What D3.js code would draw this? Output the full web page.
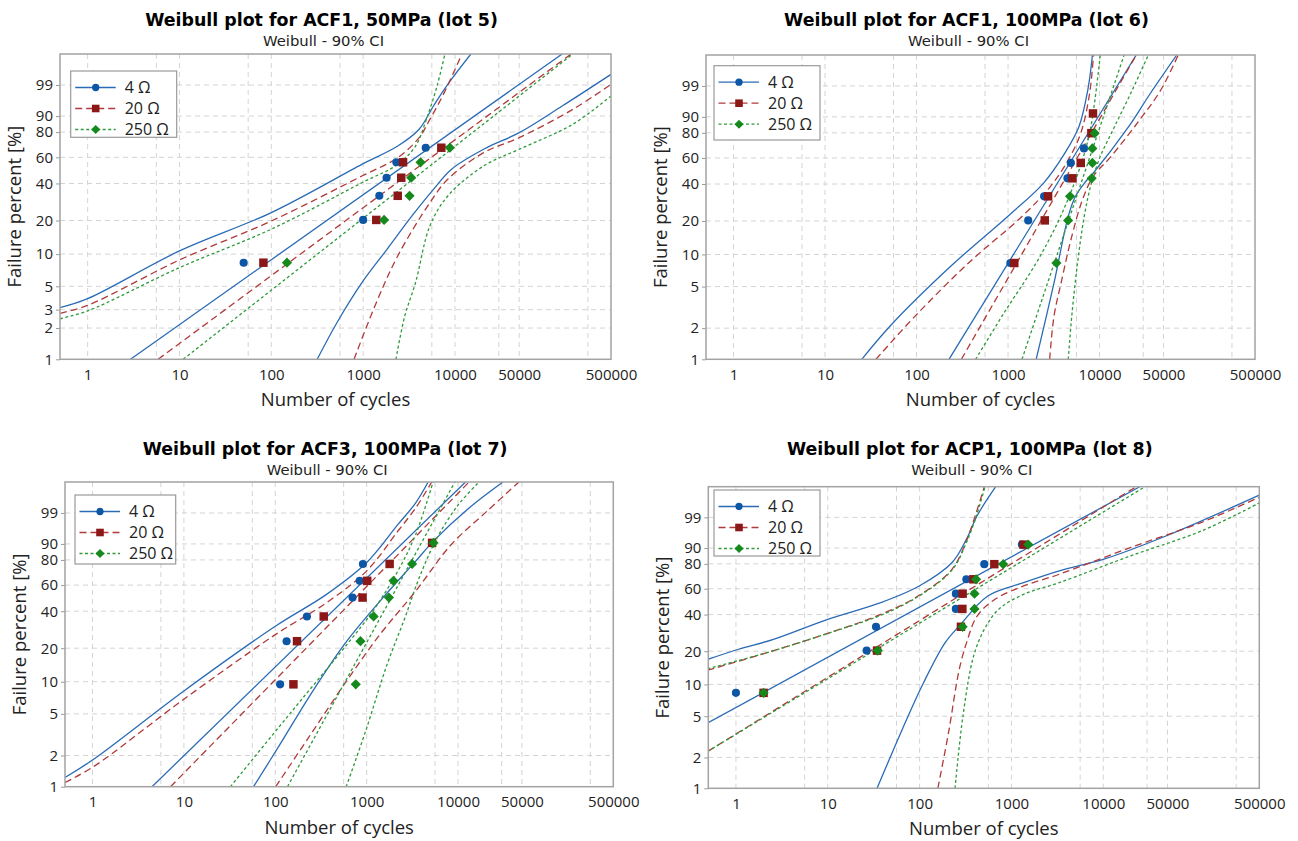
<!DOCTYPE html>
<html>
<head>
<meta charset="utf-8">
<script src="https://cdn.jsdelivr.net/npm/d3@7"></script>
<style>
  body { margin: 0; background: #fff; }
  svg { display: block; }
</style>
</head>
<body>
<svg id="chart" width="1298" height="841"></svg>
<script>

/* ---- shared values ---- */
const groupNames = ["4 Ω", "20 Ω", "250 Ω"];
const xTickValues = [1, 10, 100, 1000, 10000, 50000, 500000];
const xGridValues = [1, 5.6, 10, 56, 100, 560, 1000, 5600, 10000, 30000, 50000, 280000];
const yTicksWith3 = [1, 2, 3, 5, 10, 20, 40, 60, 80, 90, 99];
const yTicksNo3 = [1, 2, 5, 10, 20, 40, 60, 80, 90, 99];
const titles = [
    "Weibull plot for ACF1, 50MPa (lot 5)",
    "Weibull plot for ACF1, 100MPa (lot 6)",
    "Weibull plot for ACF3, 100MPa (lot 7)",
    "Weibull plot for ACP1, 100MPa (lot 8)"
];
const subTitle = "Weibull - 90% CI";
const xLabel = "Number of cycles";
const yLabel = "Failure percent [%]";

/* ---- lot 5 : [cycles, failure %] ---- */
const lot5Points = [
    [[50, 8.33], [1000, 20.24], [1500, 32.14], [1800, 44.05], [2300, 55.95], [4800, 67.86]],
    [[82, 8.33], [1390, 20.24], [2380, 32.14], [2600, 44.05], [2720, 55.95], [7100, 67.86]],
    [[148, 8.33], [1690, 20.24], [3200, 32.14], [3340, 44.05], [4220, 55.95], [8800, 67.86]]
];
const lot5Fit = [
    [[2.93, 1], [146900, 99.99]],
    [[5.85, 1], [184000, 99.99]],
    [[10.96, 1], [192000, 99.99]]
];
const lot5Upper = [
    [[0.5, 3.14], [1, 3.82], [10, 10.7], [100, 23.4], [970, 54.3], [2380, 69.2], [4070, 82.0], [5830, 94.4], [8340, 99.07], [14900, 99.99]],
    [[0.5, 2.77], [1, 3.30], [10, 8.83], [100, 19.8], [970, 45.3], [2380, 59.7], [4070, 75.9], [5330, 88.2], [7620, 97.9], [11900, 99.99]],
    [[0.5, 2.46], [1, 2.92], [10, 7.49], [100, 16.8], [970, 40.5], [2380, 54.3], [3720, 69.2], [4880, 88.2], [6380, 98.9], [7770, 99.99]]
];
const lot5Lower = [
    [[316, 1], [518, 2.25], [970, 5.42], [1820, 11.07], [3400, 21.9], [5830, 36.1], [9120, 50.3], [20500, 66.6], [50100, 79.6], [147000, 94.4], [500000, 99.71]],
    [[796, 1], [1390, 3.5], [2380, 9.62], [5330, 28.3], [8340, 42.9], [20500, 63.8], [50100, 75.9], [192000, 93.1], [500000, 99.07]],
    [[2275, 1], [2840, 2.61], [3720, 5.42], [5330, 17.9], [8340, 32.0], [20500, 53.0], [50100, 66.6], [192000, 85.3], [500000, 97.3]]
];

/* ---- lot 6 ---- */
const lot6Points = [
    [[1060, 8.33], [1660, 20.24], [2480, 32.14], [4460, 44.05], [4850, 55.95], [6760, 67.86]],
    [[1170, 8.33], [2520, 20.24], [2740, 32.14], [5060, 44.05], [6230, 55.95], [8140, 79.76], [8480, 91.67]],
    [[3380, 8.33], [4530, 20.24], [4760, 32.14], [8200, 44.05], [8350, 55.95], [8350, 67.86], [8850, 79.76]]
];
const lot6Fit = [
    [[226, 1], [25200, 99.99]],
    [[309, 1], [25200, 99.99]],
    [[1420, 1], [18550, 99.99]]
];
const lot6Upper = [
    [[25.2, 1], [51.5, 2.1], [236, 7.76], [991, 21.9], [2430, 40.5], [4160, 63.8], [5950, 84.2], [7440, 98.5], [8360, 99.99]],
    [[36, 1], [96.5, 2.61], [370, 8.34], [1420, 21.9], [2900, 38.3], [4550, 58.4], [6220, 79.6], [7780, 97.9], [8590, 99.99]],
    [[442, 1], [906, 2.81], [2030, 8.34], [3470, 19.2], [4970, 36.1], [6500, 58.4], [7780, 79.6], [8900, 96.5], [10180, 99.99]]
];
const lot6Lower = [
    [[2030, 1], [3180, 5.42], [4550, 21.9], [5440, 32.0], [6800, 40.5], [8510, 47.8], [20800, 84.2], [35700, 97.9], [69800, 99.99]],
    [[2850, 1], [3180, 2.61], [3800, 5.42], [4970, 14.6], [6500, 30.1], [8510, 45.3], [13300, 61.1], [27300, 88.2], [46700, 98.5], [72400, 99.99]],
    [[4550, 1], [4970, 2.61], [5690, 7.76], [6800, 21.9], [8140, 40.5], [10180, 61.1], [14560, 84.2], [22790, 98.5], [34120, 99.99]]
];

/* ---- lot 7 ---- */
const lot7Points = [
    [[113, 9.46], [133, 22.97], [222, 36.49], [701, 50.0], [839, 63.51], [910, 77.03]],
    [[158, 9.46], [173, 22.97], [339, 36.49], [902, 50.0], [1014, 63.51], [1784, 77.03], [5200, 90.54]],
    [[760, 9.46], [855, 22.97], [1191, 36.49], [1753, 50.0], [1968, 63.51], [3141, 77.03], [5383, 90.54]]
];
const lot7Fit = [
    [[4.48, 1], [12080, 99.99]],
    [[7.14, 1], [13200, 99.99]],
    [[136, 1], [9230, 99.99]]
];
const lot7Upper = [
    [[0.5, 1.23], [1, 1.81], [10, 8.22], [101, 30.7], [364, 52.5], [995, 77.9], [2190, 97.1], [3440, 99.69], [4710, 99.99]],
    [[0.5, 1.10], [1, 1.54], [10, 6.88], [101, 26.2], [364, 46.1], [995, 71.4], [2190, 95.3], [3440, 99.42], [5150, 99.99]],
    [[32.3, 1], [94.8, 3.21], [232, 8.22], [570, 20.2], [1170, 40.1], [2190, 71.4], [3440, 94.2], [5330, 99.99]]
];
const lot7Lower = [
    [[57.8, 1], [113, 2.57], [232, 7.13], [570, 21.6], [1400, 47.3], [3440, 79.1], [5380, 91.4], [13200, 99.42], [31000, 99.99]],
    [[101, 1], [232, 2.98], [570, 9.48], [1400, 26.2], [3440, 55.1], [8430, 89.7], [20700, 99.16], [46400, 99.99]],
    [[597, 1], [977, 3.45], [1675, 14.4], [2624, 35.7], [3758, 66.0], [5888, 92.8], [10090, 99.61], [16980, 99.99]]
];

/* ---- lot 8 ---- */
const lot8Points = [
    [[1, 8.33], [26.5, 20.24], [33.5, 32.14], [248, 44.05], [248, 55.95], [323, 67.86], [506, 79.76], [1300, 91.67]],
    [[2, 8.33], [34.4, 20.24], [282, 32.14], [292, 44.05], [294, 55.95], [385, 67.86], [651, 79.76], [1355, 91.67]],
    [[2, 8.33], [35, 20.24], [294, 32.14], [396, 44.05], [396, 55.95], [412, 67.86], [814, 79.76], [1524, 91.67]]
];
const lot8Fit = [
    [[0.49, 4.3], [24950, 99.99]],
    [[0.49, 2.28], [22800, 99.99]],
    [[0.49, 2.28], [28500, 99.99]]
];
const lot8Upper = [
    [[0.49, 16.9], [1.05, 20.7], [2.56, 25.3], [10, 36.8], [37.7, 48.8], [99, 62.3], [226, 81.0], [324, 94.0], [423, 99.16], [674, 99.99]],
    [[0.49, 13.5], [2.56, 20.2], [10, 28.4], [37.7, 40.1], [99, 54.6], [226, 76.0], [324, 93.4], [404, 99.16], [506, 99.99]],
    [[0.49, 13.9], [2.56, 20.2], [10, 28.4], [37.7, 39.5], [99, 54.1], [226, 75.4], [324, 92.7], [416, 99.16], [515, 99.99]]
];
const lot8Lower = [
    [[34.4, 1], [64.5, 3.71], [110, 10.3], [189, 23.6], [270, 32.6], [553, 54.1], [1356, 65.1], [3321, 74.7], [10180, 83.3], [48860, 95.2], [500000, 99.95]],
    [[158, 1], [206, 3.44], [270, 13.7], [324, 23.6], [423, 39.0], [662, 51.4], [1356, 62.3], [3321, 72.0], [19950, 90.3], [119600, 98.4], [500000, 99.93]],
    [[243, 1], [296, 4.98], [387, 18.1], [506, 30.6], [724, 43.7], [1356, 55.4], [3321, 65.1], [19950, 85.5], [119600, 96.7], [500000, 99.83]]
];

/* ---- layout / style ---- */
const plotBoxes = [[60, 54, 611, 359.3], [706, 55, 1255, 359.3], [65, 482, 613.3, 786.7], [708.3, 486.7, 1259.3, 788.3]];
const legendBoxes = [[70.7, 71, 106, 66.3], [714, 65.7, 106, 74.3], [75, 495, 100.7, 69], [714, 490, 106, 66]];
const titleBaselines = [26, 26, 455, 455];
const lineColors = ["#2a6bb5", "#b03a3a", "#2e9a3a"];
const markerColors = ["#0d55a5", "#8b1717", "#15891c"];
const dashes = [null, "7,4", "3,2.5"];
const symbols = [d3.symbolCircle, d3.symbolSquare, d3.symbolSquare];
const symbolSizes = [52, 72, 52];
const symbolRotate = [0, 0, 45];

const panelData = [
    [lot5Points, lot5Fit, lot5Upper, lot5Lower, yTicksWith3],
    [lot6Points, lot6Fit, lot6Upper, lot6Lower, yTicksNo3],
    [lot7Points, lot7Fit, lot7Upper, lot7Lower, yTicksNo3],
    [lot8Points, lot8Fit, lot8Upper, lot8Lower, yTicksNo3]
];

const svg = d3.select("#chart");
const sansFont = "'Open Sans', 'Noto Sans', sans-serif";
const titleFont = "'DejaVu Sans', Verdana, sans-serif";

/* Weibull probability transform */
function weib(p) {
    return Math.log(-Math.log(1 - p / 100));
}

function drawPanel(k) {
    const [L, T, R, B] = plotBoxes[k];
    const [points, fits, uppers, lowers, yTicks] = panelData[k];

    var x = d3.scaleLog().domain([0.5, 500000]).range([L, R]);
    var y = d3.scaleLinear().domain([weib(1), weib(99.99)]).range([B, T]);

    const g = svg.append("g").attr("class", "panel" + k);

    g.append("clipPath")
        .attr("id", "clip" + k)
        .append("rect")
        .attr("x", L).attr("y", T)
        .attr("width", R - L).attr("height", B - T);

    /* grid */
    g.append("g").selectAll("line")
        .data(xGridValues)
        .enter().append("line")
        .attr("x1", d => x(d)).attr("x2", d => x(d))
        .attr("y1", T).attr("y2", B)
        .attr("stroke", "#d4d4d4")
        .attr("stroke-dasharray", "5,4");

    g.append("g").selectAll("line")
        .data(yTicks.filter(d => d > 1))
        .enter().append("line")
        .attr("x1", L).attr("x2", R)
        .attr("y1", d => y(weib(d))).attr("y2", d => y(weib(d)))
        .attr("stroke", "#d4d4d4")
        .attr("stroke-dasharray", "5,4");

    /* axes */
    var yAxis = d3.axisLeft(y)
        .tickValues(yTicks.map(weib))
        .tickFormat((d, i) => yTicks[i])
        .tickSize(4)
        .tickPadding(3);

    g.append("g")
        .attr("transform", "translate(" + L + ",0)")
        .call(yAxis)
        .call(a => a.select(".domain").remove())
        .call(a => a.selectAll(".tick line").attr("stroke", "#9a9a9a"))
        .attr("font-family", sansFont)
        .attr("font-size", 15)
        .call(a => a.selectAll("text").attr("fill", "#222"));

    var xAxis = d3.axisBottom(x)
        .tickValues(xTickValues)
        .tickFormat(d => d)
        .tickSize(0)
        .tickPadding(10);

    g.append("g")
        .attr("transform", "translate(0," + B + ")")
        .call(xAxis)
        .call(a => a.select(".domain").remove())
        .attr("font-family", sansFont)
        .attr("font-size", 15)
        .call(a => a.selectAll("text").attr("fill", "#222"));

    /* curves */
    const curveLine = d3.line()
        .x(d => x(d[0]))
        .y(d => y(weib(d[1])))
        .curve(d3.curveCatmullRom.alpha(0.5));
    const straightLine = d3.line()
        .x(d => x(d[0]))
        .y(d => y(weib(d[1])));

    const lines = g.append("g").attr("clip-path", "url(#clip" + k + ")");
    for (let s = 0; s < 3; s++) {
        [uppers[s], lowers[s]].forEach(c => {
            lines.append("path")
                .attr("d", curveLine(c))
                .attr("fill", "none")
                .attr("stroke", lineColors[s])
                .attr("stroke-width", 1.3)
                .attr("stroke-dasharray", dashes[s]);
        });
        lines.append("path")
            .attr("d", straightLine(fits[s]))
            .attr("fill", "none")
            .attr("stroke", lineColors[s])
            .attr("stroke-width", 1.3)
            .attr("stroke-dasharray", dashes[s]);
    }

    /* points */
    for (let s = 0; s < 3; s++) {
        g.append("g").selectAll("path")
            .data(points[s])
            .enter().append("path")
            .attr("d", d3.symbol().type(symbols[s]).size(symbolSizes[s]))
            .attr("transform", d => "translate(" + x(d[0]) + "," + y(weib(d[1])) + ") rotate(" + symbolRotate[s] + ")")
            .attr("fill", markerColors[s]);
    }

    /* frame */
    g.append("rect")
        .attr("x", L).attr("y", T)
        .attr("width", R - L).attr("height", B - T)
        .attr("fill", "none")
        .attr("stroke", "#a3a3a3")
        .attr("stroke-width", 1.5);

    /* legend */
    const [lx, ly, lw, lh] = legendBoxes[k];
    const lg = g.append("g").attr("transform", "translate(" + lx + "," + ly + ")");
    lg.append("rect")
        .attr("width", lw).attr("height", lh)
        .attr("fill", "#fff")
        .attr("stroke", "#9a9a9a")
        .attr("stroke-width", 1.2);
    groupNames.forEach((name, s) => {
        const yy = 16.5 + 21 * s;
        lg.append("line")
            .attr("x1", 4.5).attr("x2", 45)
            .attr("y1", yy).attr("y2", yy)
            .attr("stroke", lineColors[s])
            .attr("stroke-width", 1.3)
            .attr("stroke-dasharray", dashes[s]);
        lg.append("path")
            .attr("d", d3.symbol().type(symbols[s]).size(symbolSizes[s] * 0.8))
            .attr("transform", "translate(25," + yy + ") rotate(" + symbolRotate[s] + ")")
            .attr("fill", markerColors[s]);
        lg.append("text")
            .attr("x", 54).attr("y", yy)
            .attr("dy", "0.35em")
            .attr("font-family", sansFont)
            .attr("font-size", 16)
            .attr("fill", "#222")
            .text(name);
    });

    /* titles and axis labels */
    const cx = (L + R) / 2;
    g.append("text")
        .attr("x", cx - 14).attr("y", titleBaselines[k])
        .attr("text-anchor", "middle")
        .attr("font-family", titleFont)
        .attr("font-weight", "bold")
        .attr("font-size", 17.4)
        .attr("fill", "#000")
        .text(titles[k]);

    g.append("text")
        .attr("x", cx - 12).attr("y", titleBaselines[k] + 20)
        .attr("text-anchor", "middle")
        .attr("font-family", titleFont)
        .attr("font-size", 14.8)
        .attr("fill", "#222")
        .text(subTitle);

    g.append("text")
        .attr("x", cx).attr("y", B + 47)
        .attr("text-anchor", "middle")
        .attr("font-family", sansFont)
        .attr("font-size", 18.5)
        .attr("fill", "#222")
        .text(xLabel);

    g.append("text")
        .attr("transform", "translate(" + (L - 39) + "," + ((T + B) / 2) + ") rotate(-90)")
        .attr("text-anchor", "middle")
        .attr("font-family", sansFont)
        .attr("font-size", 18.5)
        .attr("fill", "#222")
        .text(yLabel);
}

for (let k = 0; k < 4; k++) {
    drawPanel(k);
}
</script>
</body>
</html>
